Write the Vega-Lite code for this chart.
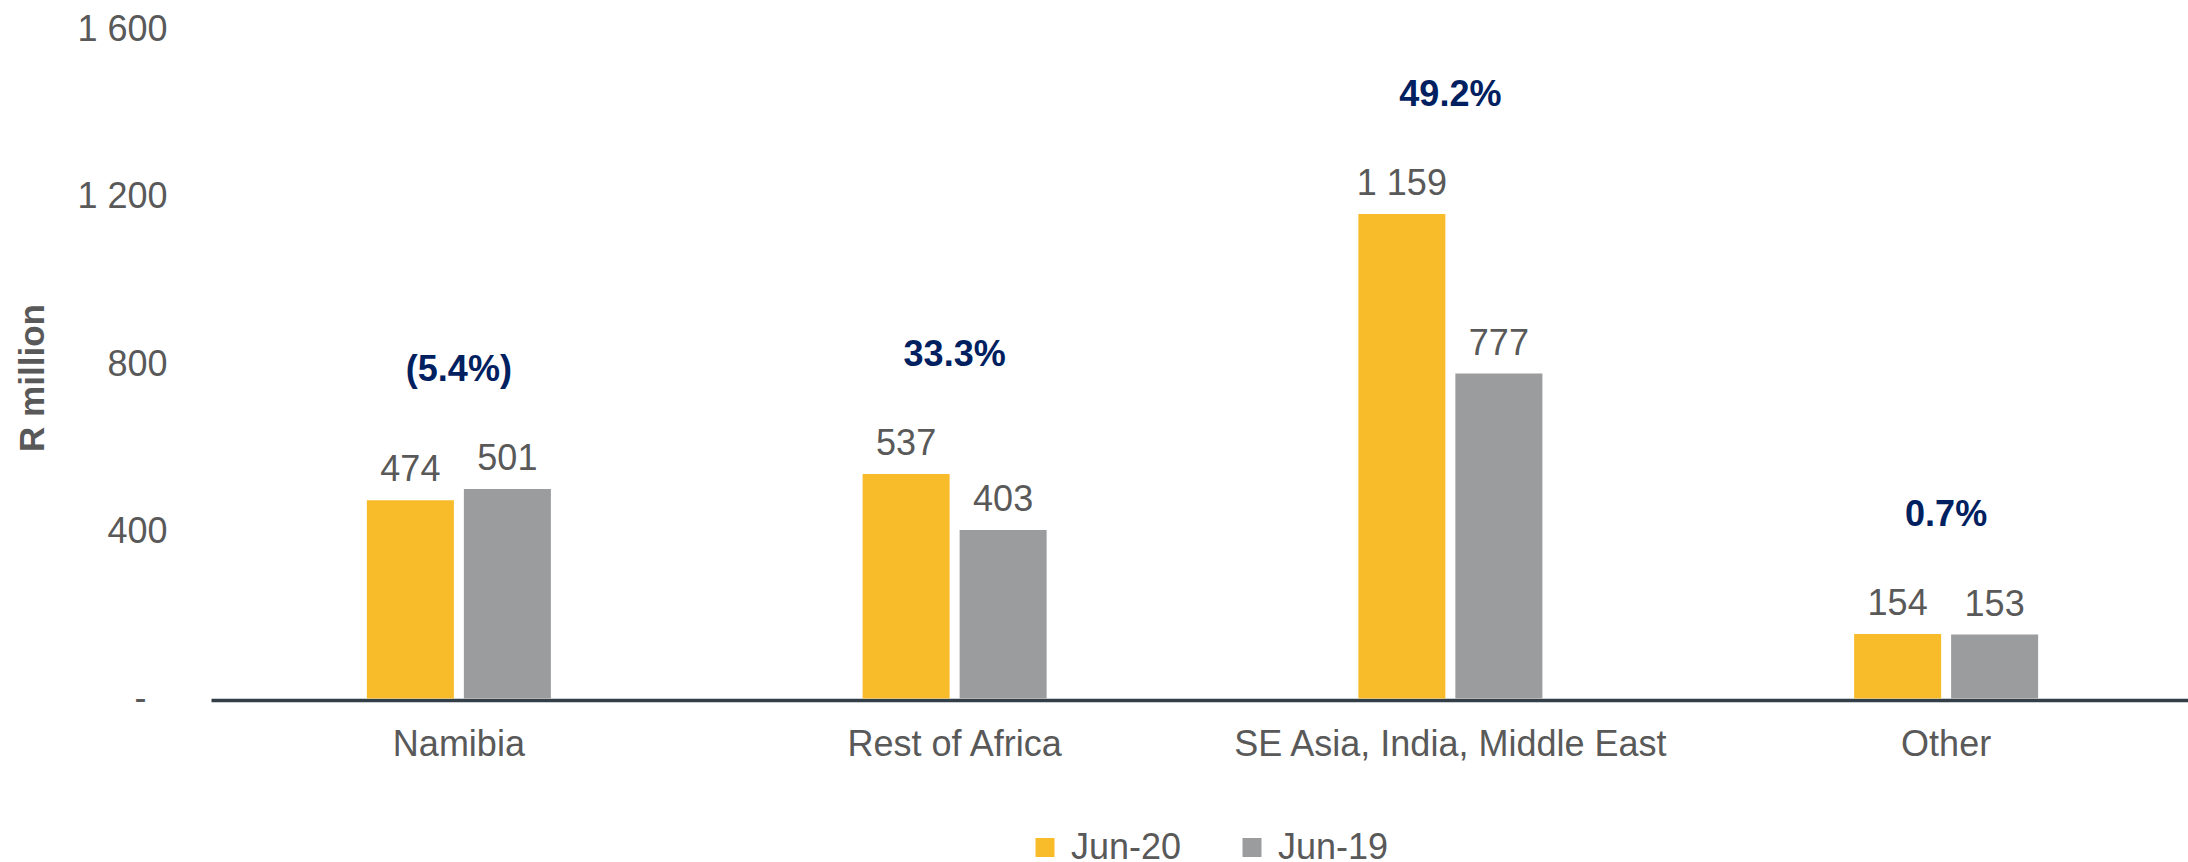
{
  "$schema": "https://vega.github.io/schema/vega-lite/v6.json",
  "autosize": {"type": "none"},
  "padding": {"left": 211, "top": 29.5, "right": 0, "bottom": 163.5},
  "width": 1977,
  "height": 669,
  "background": "white",
  "data": {
    "values": [
      {"category": "Namibia", "series": "Jun-20", "value": 474, "change": "(5.4%)"},
      {"category": "Namibia", "series": "Jun-19", "value": 501, "change": "(5.4%)"},
      {"category": "Rest of Africa", "series": "Jun-20", "value": 537, "change": "33.3%"},
      {"category": "Rest of Africa", "series": "Jun-19", "value": 403, "change": "33.3%"},
      {"category": "SE Asia, India, Middle East", "series": "Jun-20", "value": 1159, "change": "49.2%"},
      {"category": "SE Asia, India, Middle East", "series": "Jun-19", "value": 777, "change": "49.2%"},
      {"category": "Other", "series": "Jun-20", "value": 154, "change": "0.7%"},
      {"category": "Other", "series": "Jun-19", "value": 153, "change": "0.7%"}
    ]
  },
  "encoding": {
    "x": {
      "field": "category",
      "type": "nominal",
      "sort": null,
      "scale": {"range": [0, 1983], "paddingInner": 0.6288, "paddingOuter": 0.3144},
      "axis": {
        "title": null,
        "labelAngle": 0,
        "labelFontSize": 36,
        "labelColor": "#595959",
        "labelPadding": 27,
        "labelLimit": 0,
        "ticks": false,
        "domain": true,
        "domainColor": "#333F48",
        "domainWidth": 3.5,
        "offset": 1.5
      }
    },
    "y": {
      "field": "value",
      "type": "quantitative",
      "scale": {"domain": [0, 1600], "nice": false},
      "axis": {
        "values": [0, 400, 800, 1200, 1600],
        "format": ",.0f",
        "labelExpr": "datum.value == 0 ? '-' : datum.label",
        "labelFontSize": 36,
        "labelColor": "#595959",
        "labelPadding": {"condition": {"test": "datum.value == 0", "value": 65}, "value": 44},
        "ticks": false,
        "domain": false,
        "grid": false,
        "title": "R million",
        "titleFontSize": 35,
        "titleFontWeight": "bold",
        "titleColor": "#595959",
        "titleX": -168,
        "titleY": 348,
        "titleAngle": -90,
        "titleAlign": "center",
        "titleBaseline": "alphabetic"
      }
    }
  },
  "layer": [
    {
      "mark": {"type": "bar"},
      "encoding": {
        "xOffset": {
          "field": "series",
          "type": "nominal",
          "sort": ["Jun-20", "Jun-19"],
          "scale": {"paddingInner": 0.103, "paddingOuter": 0}
        },
        "color": {
          "field": "series",
          "type": "nominal",
          "sort": ["Jun-20", "Jun-19"],
          "scale": {"domain": ["Jun-20", "Jun-19"], "range": ["#F8BC2B", "#9B9C9E"]},
          "legend": {
            "title": null,
            "orient": "none",
            "legendX": 816,
            "legendY": 800,
            "direction": "horizontal",
            "symbolType": "square",
            "symbolSize": 361,
            "symbolStrokeWidth": 0,
            "labelFontSize": 36,
            "labelColor": "#595959",
            "labelOffset": 8,
            "columnPadding": 52,
            "padding": 0
          }
        }
      }
    },
    {
      "mark": {"type": "text", "fontSize": 36, "color": "#595959", "baseline": "alphabetic", "dy": -19},
      "encoding": {
        "xOffset": {
          "field": "series",
          "type": "nominal",
          "sort": ["Jun-20", "Jun-19"],
          "scale": {"paddingInner": 0.103, "paddingOuter": 0}
        },
        "text": {"field": "value", "type": "quantitative", "format": ",.0f"}
      }
    },
    {
      "mark": {"type": "text", "fontSize": 36, "fontWeight": "bold", "color": "#002060", "baseline": "middle", "dy": -119},
      "encoding": {
        "y": {"field": "value", "aggregate": "max", "type": "quantitative"},
        "text": {"field": "change", "type": "nominal"}
      }
    }
  ],
  "config": {
    "font": "Liberation Sans",
    "view": {"stroke": null},
    "locale": {
      "number": {"decimal": ".", "thousands": " ", "grouping": [3], "currency": ["R", ""]}
    }
  }
}
